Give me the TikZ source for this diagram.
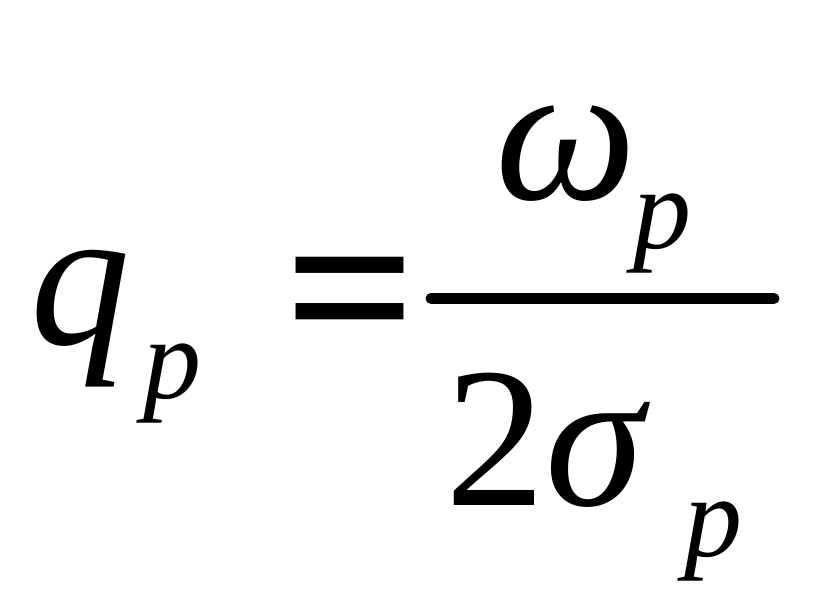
\documentclass[tikz,border=0pt]{standalone}
\usepackage{fontspec}
\setmainfont{Liberation Serif}
\begin{document}
\begin{tikzpicture}[x=1pt,y=-1pt,
  big/.style={inner sep=0pt,anchor=base west,font=\fontsize{200}{240}\selectfont},
  bigit/.style={big,font=\fontsize{200}{240}\selectfont\itshape},
  sub/.style={inner sep=0pt,anchor=base west,font=\fontsize{116}{140}\selectfont\itshape}]
\useasboundingbox (0,0) rectangle (814,614);
\fill[white] (0,0) rectangle (814,614);
\node[bigit] (q) at (30,344) {q};
\node[sub] (qp) at (143,398) {p};
\node[big,font=\fontsize{232}{260}\selectfont\bfseries] (eq) at (284,365) {=};
\draw[line width=11pt,line cap=round] (431,298.5) -- (774,298.5);
\node[bigit] (w) at (495,199) {ω};
\node[sub] (wp) at (633,248) {p};
\node[big] (two) at (445,505) {2};
\node[bigit] (s) at (545,505) {σ};
\node[sub] (sp) at (684,556) {p};
\end{tikzpicture}
\end{document}
